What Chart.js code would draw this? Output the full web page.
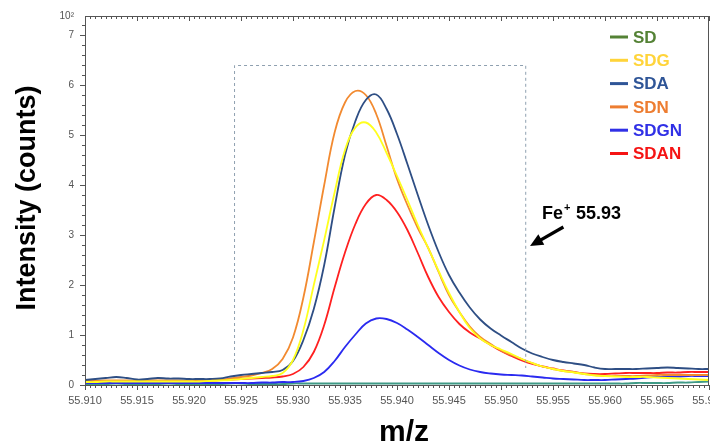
<!DOCTYPE html>
<html>
<head>
<meta charset="utf-8">
<script src="https://cdn.jsdelivr.net/npm/chart.js@4/dist/chart.umd.min.js"></script>
<style>
  html, body { margin: 0; padding: 0; background: #fff; }
  #wrap { width: 710px; height: 443px; }
</style>
</head>
<body>
<div id="wrap"><canvas id="ms_chart" width="710" height="443"></canvas></div>
<script>
// m/z axis points
const mz = [
  55.910, 55.911, 55.912, 55.913, 55.914, 55.915, 55.916, 55.917, 55.918, 55.919,
  55.920, 55.921, 55.922, 55.923, 55.924, 55.925, 55.926, 55.927, 55.928, 55.929,
  55.930, 55.931, 55.932, 55.933, 55.934, 55.935, 55.936, 55.937, 55.938, 55.939,
  55.940, 55.941, 55.942, 55.943, 55.944, 55.945, 55.946, 55.947, 55.948, 55.949,
  55.950, 55.951, 55.952, 55.953, 55.954, 55.955, 55.956, 55.957, 55.958, 55.959,
  55.960, 55.961, 55.962, 55.963, 55.964, 55.965, 55.966, 55.967, 55.968, 55.969,
  55.970
];

const sd = [
  0.02, 0.02, 0.02, 0.03, 0.02, 0.02, 0.02, 0.02, 0.03, 0.02,
  0.02, 0.02, 0.02, 0.02, 0.03, 0.03, 0.02, 0.02, 0.02, 0.02,
  0.03, 0.03, 0.03, 0.03, 0.03, 0.03, 0.03, 0.03, 0.03, 0.03,
  0.03, 0.03, 0.03, 0.03, 0.03, 0.03, 0.03, 0.03, 0.03, 0.03,
  0.03, 0.03, 0.03, 0.03, 0.03, 0.03, 0.03, 0.03, 0.03, 0.03,
  0.03, 0.03, 0.03, 0.04, 0.04, 0.04, 0.04, 0.05, 0.05, 0.06,
  0.07
];
const sdg = [
  0.06, 0.06, 0.07, 0.07, 0.07, 0.07, 0.07, 0.07, 0.07, 0.07,
  0.07, 0.07, 0.08, 0.09, 0.10, 0.12, 0.14, 0.16, 0.18, 0.24,
  0.50, 1.10, 2.00, 2.90, 3.85, 4.70, 5.15, 5.25, 5.05, 4.64,
  4.18, 3.70, 3.20, 2.74, 2.28, 1.84, 1.46, 1.14, 0.93, 0.80,
  0.71, 0.62, 0.52, 0.44, 0.37, 0.32, 0.28, 0.25, 0.22, 0.19,
  0.18, 0.17, 0.16, 0.16, 0.16, 0.15, 0.14, 0.13, 0.12, 0.11,
  0.10
];
const sda = [
  0.10, 0.12, 0.14, 0.16, 0.14, 0.11, 0.12, 0.14, 0.13, 0.13,
  0.12, 0.12, 0.12, 0.13, 0.17, 0.20, 0.22, 0.24, 0.26, 0.30,
  0.48, 0.90, 1.52, 2.40, 3.55, 4.60, 5.28, 5.70, 5.81, 5.52,
  5.02, 4.42, 3.80, 3.20, 2.66, 2.20, 1.85, 1.55, 1.31, 1.13,
  0.99, 0.86, 0.73, 0.63, 0.56, 0.50, 0.46, 0.43, 0.40, 0.35,
  0.32, 0.32, 0.32, 0.32, 0.33, 0.34, 0.35, 0.34, 0.33, 0.32,
  0.32
];
const sdn = [
  0.08, 0.08, 0.09, 0.09, 0.09, 0.08, 0.09, 0.09, 0.09, 0.09,
  0.08, 0.09, 0.09, 0.10, 0.13, 0.16, 0.19, 0.24, 0.32, 0.52,
  0.95, 1.75, 2.85, 4.00, 5.05, 5.65, 5.88, 5.80, 5.42, 4.78,
  4.12, 3.60, 3.14, 2.74, 2.26, 1.80, 1.46, 1.17, 0.96, 0.82,
  0.69, 0.60, 0.52, 0.44, 0.37, 0.32, 0.28, 0.26, 0.22, 0.20,
  0.18, 0.18, 0.18, 0.18, 0.19, 0.20, 0.20, 0.20, 0.20, 0.20,
  0.20
];
const sdgn = [
  0.04, 0.04, 0.04, 0.04, 0.04, 0.04, 0.04, 0.04, 0.04, 0.04,
  0.04, 0.04, 0.04, 0.04, 0.04, 0.04, 0.04, 0.05, 0.05, 0.06,
  0.06, 0.08, 0.14, 0.26, 0.48, 0.76, 1.01, 1.23, 1.33, 1.32,
  1.24, 1.11, 0.96, 0.80, 0.64, 0.50, 0.39, 0.31, 0.26, 0.23,
  0.21, 0.20, 0.19, 0.17, 0.15, 0.13, 0.12, 0.11, 0.10, 0.10,
  0.10, 0.11, 0.12, 0.13, 0.15, 0.16, 0.17, 0.17, 0.18, 0.18,
  0.18
];
const sdan = [
  0.07, 0.07, 0.07, 0.08, 0.08, 0.08, 0.08, 0.08, 0.08, 0.08,
  0.08, 0.08, 0.09, 0.10, 0.11, 0.12, 0.13, 0.14, 0.15, 0.17,
  0.22, 0.36, 0.66, 1.20, 1.95, 2.65, 3.22, 3.62, 3.80, 3.70,
  3.46, 3.10, 2.64, 2.16, 1.76, 1.46, 1.22, 1.05, 0.93, 0.80,
  0.68, 0.58, 0.49, 0.42, 0.37, 0.33, 0.29, 0.26, 0.23, 0.22,
  0.22, 0.23, 0.24, 0.24, 0.24, 0.24, 0.25, 0.25, 0.26, 0.26,
  0.26
];

const seriesNames = ["SD", "SDG", "SDA", "SDN", "SDGN", "SDAN"];
const seriesData = [sd, sdg, sda, sdn, sdgn, sdan];
const lineColors = ["#3f9a86", "#ffff1e", "#2e4e84", "#f28a30", "#2a2af0", "#ff2020"];
const legendColors = ["#548235", "#ffd43a", "#2f5597", "#ed7d31", "#3030e6", "#f51414"];

const yTicks = [0, 1, 2, 3, 4, 5, 6, 7];
const yTop = 7.38;      // top of the frame, labelled 10^2
const xMin = 55.910, xMax = 55.970;

// dashed selection box and annotation, in data units
const box = { x0: 55.92433, x1: 55.95233, y0: 0.34, y1: 6.4 };
const arrow = { fromX: 55.9560, fromY: 3.16, toX: 55.95279, toY: 2.78 };
const noteY = 3.36;

const FONT = "'Liberation Sans', Arial, Helvetica, sans-serif";

var datasets = seriesNames.map((name, i) => ({
    label: name,
    data: mz.map((x, j) => ({ x: x, y: seriesData[i][j] })),
    borderColor: lineColors[i],
    borderWidth: 1.8,
    pointRadius: 0,
    fill: false,
    tension: 0.4,
    order: i === 0 ? 10 : i
}));

const framePlugin = {
    id: "frame",
    afterDatasetsDraw(chart) {
        const { ctx, chartArea: a, scales } = chart;
        const xs = scales.x, ys = scales.y;
        ctx.save();
        // dashed box
        ctx.strokeStyle = "#8fa0b0";
        ctx.lineWidth = 1;
        ctx.setLineDash([3, 3]);
        const bx0 = xs.getPixelForValue(box.x0), bx1 = xs.getPixelForValue(box.x1);
        const by0 = ys.getPixelForValue(box.y0), by1 = ys.getPixelForValue(box.y1);
        ctx.beginPath();
        ctx.moveTo(bx0 + 0.5, by0);
        ctx.lineTo(bx0 + 0.5, by1 + 0.5);
        ctx.lineTo(bx1 + 0.5, by1 + 0.5);
        ctx.lineTo(bx1 + 0.5, by0);
        ctx.stroke();
        ctx.setLineDash([]);

        // frame
        ctx.strokeStyle = "#555";
        ctx.lineWidth = 1;
        ctx.strokeRect(Math.round(a.left) + 0.5, Math.round(a.top) + 0.5,
            Math.round(a.right - a.left) - 1, Math.round(a.bottom - a.top));

        // minor x ticks, bottom and top
        ctx.beginPath();
        for (let k = 0; k <= 120; k++) {
            const v = xMin + k * 0.0005;
            const px = Math.round(xs.getPixelForValue(v)) + 0.5;
            const len = k % 10 === 0 ? 5 : 3;
            ctx.moveTo(px, a.bottom);
            ctx.lineTo(px, a.bottom + len);
            ctx.moveTo(px, a.top);
            ctx.lineTo(px, a.top + len);
        }
        // y ticks
        for (let k = 0; k <= 36; k++) {
            const py = Math.round(ys.getPixelForValue(k * 0.2)) + 0.5;
            const len = k % 5 === 0 ? 5 : 3;
            ctx.moveTo(a.left, py);
            ctx.lineTo(a.left - len, py);
        }
        ctx.stroke();

        // arrow
        const fx = xs.getPixelForValue(arrow.fromX), fy = ys.getPixelForValue(arrow.fromY);
        const tx = xs.getPixelForValue(arrow.toX), ty = ys.getPixelForValue(arrow.toY);
        const ang = Math.atan2(ty - fy, tx - fx);
        ctx.strokeStyle = "#000";
        ctx.fillStyle = "#000";
        ctx.lineWidth = 3.2;
        ctx.beginPath();
        ctx.moveTo(fx, fy);
        ctx.lineTo(tx - 9 * Math.cos(ang), ty - 9 * Math.sin(ang));
        ctx.stroke();
        ctx.beginPath();
        ctx.moveTo(tx, ty);
        ctx.lineTo(tx - 13 * Math.cos(ang) + 6 * Math.sin(ang), ty - 13 * Math.sin(ang) - 6 * Math.cos(ang));
        ctx.lineTo(tx - 13 * Math.cos(ang) - 6 * Math.sin(ang), ty - 13 * Math.sin(ang) + 6 * Math.cos(ang));
        ctx.closePath();
        ctx.fill();

        // annotation text
        const nx = 542, ny = ys.getPixelForValue(noteY) + 2;
        ctx.textBaseline = "alphabetic";
        ctx.textAlign = "left";
        ctx.font = "bold 18px " + FONT;
        ctx.fillText("Fe", nx, ny);
        let w = ctx.measureText("Fe").width;
        ctx.font = "bold 11px " + FONT;
        ctx.fillText("+", nx + w + 1, ny - 8);
        ctx.font = "bold 18px " + FONT;
        ctx.fillText("55.93", nx + w + 13, ny);

        // legend
        ctx.font = "bold 17px " + FONT;
        ctx.textBaseline = "middle";
        seriesNames.forEach((name, i) => {
            const y = 37 + i * 23.3;
            ctx.strokeStyle = legendColors[i];
            ctx.fillStyle = legendColors[i];
            ctx.lineWidth = 3;
            ctx.beginPath();
            ctx.moveTo(610, y);
            ctx.lineTo(628, y);
            ctx.stroke();
            ctx.fillText(name, 633, y + 1);
        });

        // axis titles
        ctx.fillStyle = "#000";
        ctx.font = "bold 30px " + FONT;
        ctx.textAlign = "center";
        ctx.textBaseline = "alphabetic";
        ctx.fillText("m/z", 404, 441);
        ctx.save();
        ctx.translate(35, 198);
        ctx.rotate(-Math.PI / 2);
        ctx.font = "bold 27px " + FONT;
        ctx.fillText("Intensity (counts)", 0, 0);
        ctx.restore();
        ctx.restore();
    }
};

var chart = new Chart(document.getElementById("ms_chart"), {
    type: "line",
    data: { datasets: datasets },
    options: {
        responsive: false,
        animation: false,
        layout: { padding: { left: 0, right: 1, top: 16, bottom: 0 } },
        plugins: {
            legend: { display: false },
            tooltip: { enabled: false }
        },
        scales: {
            x: {
                type: "linear",
                min: xMin,
                max: xMax,
                border: { display: false },
                grid: { display: false },
                afterBuildTicks: s => {
                    s.ticks = [0, 1, 2, 3, 4, 5, 6, 7, 8, 9, 10, 11, 12].map(k => ({ value: xMin + k * 0.005 }));
                },
                ticks: {
                    autoSkip: false,
                    maxRotation: 0,
                    padding: 1,
                    color: "#555",
                    font: { family: FONT, size: 11 },
                    callback: v => v.toFixed(3)
                },
                afterFit: s => {
                    s.height = 58;
                    s.paddingLeft = 0;
                    s.paddingRight = 0;
                }
            },
            y: {
                min: 0,
                max: yTop,
                border: { display: false },
                grid: { display: false },
                afterBuildTicks: s => {
                    s.ticks = yTicks.map(v => ({ value: v })).concat([{ value: yTop }]);
                },
                ticks: {
                    padding: 3,
                    color: "#555",
                    font: { family: FONT, size: 10 },
                    callback: v => (v === yTop ? "10\u00b2" : String(v))
                },
                afterFit: s => {
                    s.width = 85;
                    s.paddingTop = 0;
                    s.paddingBottom = 0;
                }
            }
        }
    },
    plugins: [framePlugin]
});
</script>
</body>
</html>
